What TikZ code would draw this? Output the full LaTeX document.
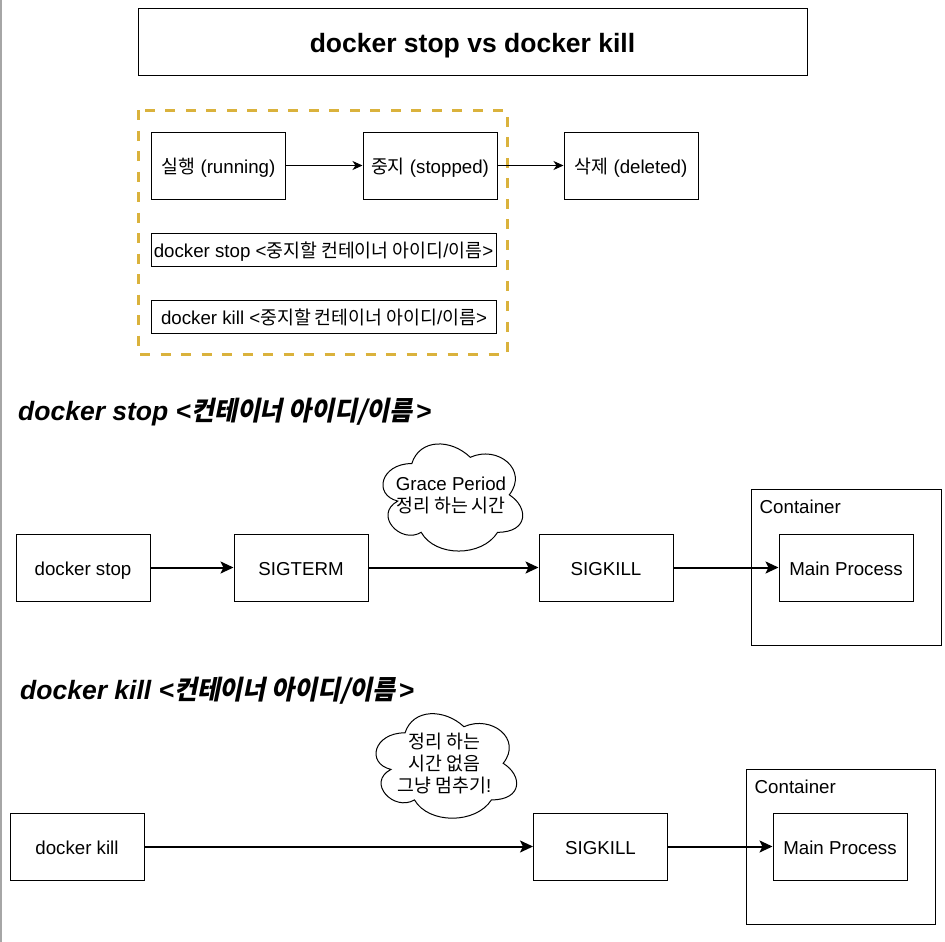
\documentclass[tikz,border=0pt]{standalone}
\usepackage{fontspec}
\setmainfont{Liberation Sans}
\newfontfamily\krfont{Noto Sans CJK KR}[FakeStretch=0.98]
\newfontfamily\krhead{Noto Sans CJK KR}[FakeSlant=0.2,FakeStretch=0.94]
\newcommand{\ko}[1]{{\krfont #1}}
\newcommand{\kohead}[1]{{\upshape\krhead #1}\kern3pt}
\usetikzlibrary{arrows.meta}
\definecolor{frameyellow}{RGB}{218,178,60}

% cloud outline inside the box of node #1 (width #2, height #3)
\newcommand{\cloudoutline}[3]{%
  \begin{scope}[shift={(#1.north west)},x=#2pt,y=-#3pt]
    \draw [line width=1pt] (0.25,0.25)
      .. controls (0.05,0.25) and (0,0.5) .. (0.16,0.55)
      .. controls (0,0.66) and (0.18,0.9) .. (0.31,0.8)
      .. controls (0.4,1) and (0.7,1) .. (0.8,0.8)
      .. controls (1,0.8) and (1,0.6) .. (0.875,0.5)
      .. controls (1,0.3) and (0.8,0.1) .. (0.625,0.2)
      .. controls (0.5,0.05) and (0.3,0.05) .. cycle;
  \end{scope}}

\tikzset{
  box/.style={draw, line width=1pt, minimum width=134pt, minimum height=67pt, inner sep=0pt,
    text height=16pt, text depth=0.6pt, font=\fontsize{18.7}{22}\selectfont},
  cmdbox/.style={box, minimum width=345pt, minimum height=33pt},
  holder/.style={draw, line width=1pt, inner sep=0pt},
  caption/.style={anchor=west, inner sep=0pt, font=\fontsize{18.7}{22}\selectfont},
  note/.style={inner sep=0pt, align=center, font=\fontsize{18.7}{22}\selectfont},
  flowarrow/.style={line width=1pt, -{Stealth[length=10pt,width=9pt,inset=3pt]}},
  sigarrow/.style={line width=2pt, -{Stealth[length=13pt,width=12pt,inset=3pt]}},
  heading/.style={anchor=base west, inner sep=0pt, font=\fontsize{26.5}{30}\selectfont\bfseries\itshape},
}

\begin{document}
\begin{tikzpicture}[x=1pt,y=-1pt]
  \useasboundingbox (0,0) rectangle (945,942);
  \draw [gray!70,line width=2pt] (1,0) -- (1,942); % page edge on the left

  % title
  \node [box, minimum width=669pt, text height=20pt, text depth=0pt,
    font=\fontsize{26.5}{30}\selectfont\bfseries] (title) at (472.5,42.5) {docker stop vs docker kill};

  % states of a container
  \draw [frameyellow,line width=3pt,dash pattern=on 10pt off 10.5pt] (138,110) rectangle (507,354);
  \node [box] (running) at (218.5,165.5) {\ko{실행} (running)};
  \node [box] (stopped) at (430,165.5) {\ko{중지} (stopped)};
  \node [box] (deleted) at (631,165.5) {\ko{삭제} (deleted)};
  \draw [flowarrow] (running) -- (stopped);
  \draw [flowarrow] (stopped) -- (deleted);
  \node [cmdbox] (stopcmd) at (323.5,249.5) {docker stop <\ko{중지할 컨테이너 아이디}/\ko{이름}>};
  \node [cmdbox] (killcmd) at (324,316.5) {docker kill <\ko{중지할 컨테이너 아이디}/\ko{이름}>};

  % docker stop
  \node [heading] (stophead) at (18,420) {docker stop <\kohead{컨테이너 아이디/이름}>};
  \node [holder, minimum width=190pt, minimum height=156pt] (cont1) at (846,567) {};
  \node [caption] (cont1label) at ([xshift=9pt,yshift=-18pt]cont1.north west) {Container};
  \node [box] (stopbox) at (83,567.5) {docker stop};
  \node [box] (sigterm) at (301,567.5) {SIGTERM};
  \node [box] (sigkill1) at (606,567.5) {SIGKILL};
  \node [box] (proc1) at (846,567.5) {Main Process};
  \node [note, minimum width=156pt, minimum height=125pt] (grace) at (451,495)
    {Grace Period\\\ko{정리 하는 시간}};
  \cloudoutline{grace}{156}{125}
  \draw [sigarrow] (stopbox) -- (sigterm);
  \draw [sigarrow] (sigterm) -- (sigkill1);
  \draw [sigarrow] (sigkill1) -- (proc1);

  % docker kill
  \node [heading] (killhead) at (20,699) {docker kill <\kohead{컨테이너 아이디/이름}>};
  \node [holder, minimum width=189pt, minimum height=155pt] (cont2) at (840.5,846.5) {};
  \node [caption] (cont2label) at ([xshift=9pt,yshift=-18pt]cont2.north west) {Container};
  \node [box] (killbox) at (77,846.5) {docker kill};
  \node [box] (sigkill2) at (600.5,846.5) {SIGKILL};
  \node [box] (proc2) at (840,846.5) {Main Process};
  \node [note, minimum width=157pt, minimum height=122pt] (nograce) at (444.5,763.5)
    {\ko{정리 하는}\\\ko{시간 없음}\\\ko{그냥 멈추기}!};
  \cloudoutline{nograce}{157}{122}
  \draw [sigarrow] (killbox) -- (sigkill2);
  \draw [sigarrow] (sigkill2) -- (proc2);
\end{tikzpicture}
\end{document}
